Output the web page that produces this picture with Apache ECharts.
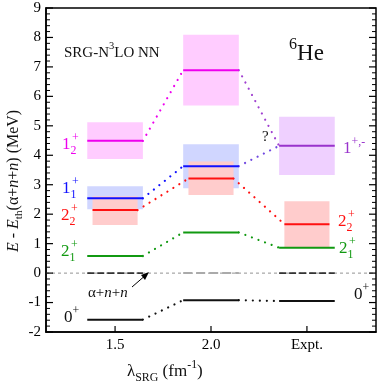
<!DOCTYPE html>
<html>
<head>
<meta charset="utf-8">
<script src="https://cdn.jsdelivr.net/npm/echarts@6/dist/echarts.min.js"></script>
<style>
  html, body { margin: 0; padding: 0; background: #fff; }
  #chart { width: 381px; height: 389px; }
</style>
</head>
<body>
<div id="chart"></div>
<script>
// columns on the x axis: lambda = 1.5, 2.0 and experiment
const columns = [1, 2, 3];
const tickLabels = ['1.5', '2.0', 'Expt.'];
const yTicks = [-2, -1, 0, 1, 2, 3, 4, 5, 6, 7, 8, 9];

// level energies (MeV) relative to alpha+n+n threshold, per column
const level0 = [-1.58, -0.92, -0.95];
const level21 = [0.58, 1.38, 0.86];
const level22 = [2.14, 3.21, 1.66];
const level11 = [2.54, 3.63];
const level12 = [4.49, 6.89];
const level1pm = [4.32];          // expt. 1+,- only
const threshold = [0, 0, 0];

// uncertainty boxes [low, high]
const box12 = [[3.87, 5.12], [5.69, 8.09]];
const box11 = [[2.17, 2.95], [2.88, 4.37]];
const box22 = [[1.63, 2.61], [2.65, 3.79], [0.87, 2.44]];
const box1pm = [[3.33, 5.31]];

const FAM = '"Liberation Serif", "Times New Roman", serif';
const HW = 0.29;   // half width of a level line (x units)
const HWR = 0.235; // half width of the red lines/boxes
const XMIN = 0.28, XMAX = 3.72;

const C = {
    magenta: '#ee00ee', blue: '#1010ff', red: '#ff1010', green: '#119911',
    black: '#111111', purple: '#9933cc'
};

// 从数组生成方框系列
function boxSeries(boxes, cols, hw, fill) {
    return {
        type: 'custom',
        z: 1,
        silent: true,
        data: boxes.map((b, i) => [cols[i], b[0], b[1]]),
        renderItem: function (params, api) {
            const p1 = api.coord([api.value(0) - hw, api.value(2)]);
            const p2 = api.coord([api.value(0) + hw, api.value(1)]);
            return {
                type: 'rect',
                shape: { x: p1[0], y: p1[1], width: p2[0] - p1[0], height: p2[1] - p1[1] },
                style: { fill: fill }
            };
        }
    };
}

// 能级横线
function levelSeries(vals, cols, hw, color, width, dash) {
    return {
        type: 'custom',
        z: 3,
        silent: true,
        data: vals.map((v, i) => [cols[i], v]),
        renderItem: function (params, api) {
            const a = api.coord([api.value(0) - hw, api.value(1)]);
            const b = api.coord([api.value(0) + hw, api.value(1)]);
            return {
                type: 'line',
                shape: { x1: a[0], y1: a[1], x2: b[0], y2: b[1] },
                style: { stroke: color, lineWidth: width || 2, lineDash: dash || null }
            };
        }
    };
}

// 点线连接（圆点）
function dots(x1, y1, x2, y2, color) {
    return {
        type: 'custom',
        z: 2,
        silent: true,
        data: [[x1, y1, x2, y2]],
        renderItem: function (params, api) {
            const a = api.coord([api.value(0), api.value(1)]);
            const b = api.coord([api.value(2), api.value(3)]);
            return {
                type: 'line',
                shape: { x1: a[0], y1: a[1], x2: b[0], y2: b[1] },
                style: { stroke: color, lineWidth: 2.2, lineDash: [0.01, 7], lineCap: 'round' }
            };
        }
    };
}

// 刻度线（左右两侧朝内）
const minorY = [];
yTicks.slice(0, -1).forEach(v => { for (let k = 1; k < 5; k++) minorY.push(v + k * 0.2); });
function yTickSeries(vals, len, width) {
    return {
        type: 'custom', z: 50, silent: true,
        data: vals.map(v => [1, v]),
        renderItem: function (params, api) {
            const l = api.coord([XMIN, api.value(1)]);
            const r = api.coord([XMAX, api.value(1)]);
            return {
                type: 'group',
                children: [
                    { type: 'line', shape: { x1: l[0], y1: l[1], x2: l[0] + len, y2: l[1] }, style: { stroke: '#000', lineWidth: width } },
                    { type: 'line', shape: { x1: r[0], y1: r[1], x2: r[0] - len, y2: r[1] }, style: { stroke: '#000', lineWidth: width } }
                ]
            };
        }
    };
}
const xTickSeries = {
    type: 'custom', z: 50, silent: true,
    data: columns.map(c => [c, -2]),
    renderItem: function (params, api) {
        const b = api.coord([api.value(0), api.value(1)]);
        return {
            type: 'line', shape: { x1: b[0], y1: b[1], x2: b[0], y2: b[1] - 6 },
            style: { stroke: '#000', lineWidth: 1.2 }
        };
    }
};

const series = [
    boxSeries(box12, [1, 2], HW, '#ffccff'),
    boxSeries(box11, [1, 2], HW, '#d0d6ff'),
    boxSeries(box22, [1, 2, 3], HWR, '#ffcccc'),
    boxSeries(box1pm, [3], HW, '#efd0ff'),
    {
        type: 'line', z: 2, silent: true, symbol: 'none',
        data: [[XMIN, 0], [XMAX, 0]],
        lineStyle: { color: '#777', width: 0.8, type: [3, 3] }
    },
    levelSeries([threshold[0]], [1], HW, '#333', 1.6, [7, 3]),
    levelSeries([threshold[1]], [2], HW, '#aaaaaa', 2, [9, 4]),
    levelSeries([threshold[2]], [3], HW, '#333', 1.6, [7, 3]),
    levelSeries(level12, [1, 2], HW, C.magenta),
    levelSeries(level11, [1, 2], HW, C.blue),
    levelSeries(level22, columns, HWR, C.red),
    levelSeries(level21, columns, HW, C.green),
    levelSeries(level0, columns, HW, C.black),
    levelSeries(level1pm, [3], HW, C.purple),
    // 1.5 -> 2.0
    dots(1 + HW, level12[0], 2 - HW, level12[1], C.magenta),
    dots(1 + HW, level11[0], 2 - HW, level11[1], C.blue),
    dots(1 + HWR, level22[0], 2 - HWR, level22[1], C.red),
    dots(1 + HW, level21[0], 2 - HW, level21[1], C.green),
    dots(1 + HW, level0[0], 2 - HW, level0[1], C.black),
    // 2.0 -> Expt.
    dots(2 + HW, level12[1], 3 - HW, level1pm[0], '#a040d0'),
    dots(2 + HW, level11[1], 3 - HW, level1pm[0], '#7048e0'),
    dots(2 + HWR, level22[1], 3 - HWR, level22[2], C.red),
    dots(2 + HW, level21[1], 3 - HW, level21[2], C.green),
    dots(2 + HW, level0[1], 3 - HW, level0[2], C.black),
    yTickSeries(yTicks, 7, 1.2),
    yTickSeries(minorY, 4, 1),
    xTickSeries
];

// 带上下标的文字
const mctx = document.createElement('canvas').getContext('2d');
function rich(parts, x, y, color, size, rot) {
    const children = [];
    let cx = 0;
    let subX = null;
    parts.forEach(p => {
        const t = p[0], k = p[1] || 'n', it = p[2];
        let fs = size, dy = 0;
        if (k === 'b') { fs = size * 0.7; dy = size * 0.32; }
        if (k === 'p') { fs = size * 0.7; dy = -size * 0.42; }
        const font = (it ? 'italic ' : '') + fs.toFixed(1) + 'px ' + FAM;
        let px = cx;
        if (k === 'p' && subX !== null) px = subX + 1.5;
        children.push({
            type: 'text', x: px, y: dy,
            style: { text: t, fill: color, font: font, verticalAlign: 'middle', align: 'left' }
        });
        mctx.font = font;
        const adv = mctx.measureText(t).width;
        if (k === 'b') { subX = cx; cx += adv; }
        else if (k === 'p' && subX !== null) { cx = Math.max(cx, px + adv); subX = null; }
        else { cx += adv; subX = null; }
    });
    return { type: 'group', x: x, y: y, rotation: rot || 0, children: children };
}

const graphics = [
    rich([['1'], ['2', 'b'], ['+', 'p']], 62, 145, C.magenta, 17),
    rich([['1'], ['1', 'b'], ['+', 'p']], 62, 189, C.blue, 17),
    rich([['2'], ['2', 'b'], ['+', 'p']], 61, 216, C.red, 17),
    rich([['2'], ['1', 'b'], ['+', 'p']], 61, 252, C.green, 17),
    rich([['0'], ['+', 'p']], 64, 318, C.black, 17),
    rich([['α+'], ['n', 'n', true], ['+'], ['n', 'n', true]], 88, 293, C.black, 15),
    rich([['1'], ['+,-', 'p']], 343, 149, C.purple, 17),
    rich([['2'], ['2', 'b'], ['+', 'p']], 338, 222, C.red, 17),
    rich([['2'], ['1', 'b'], ['+', 'p']], 339, 249, C.green, 17),
    rich([['0'], ['+', 'p']], 354, 295, C.black, 17),
    rich([['?']], 262, 137, C.black, 15),
    rich([['SRG-N'], ['3', 'p'], ['LO NN']], 64, 53, C.black, 15),
    rich([['6', 'p'], ['He']], 289, 54, C.black, 23),
    rich([['λ'], ['SRG', 'b'], [' (fm'], ['-1', 'p'], [')']], 127, 372, C.black, 17),
    rich([['E', 'n', true], [' - '], ['E', 'n', true], ['th', 'b'], ['(α+'], ['n', 'n', true], ['+'],
          ['n', 'n', true], [') (MeV)']], 14, 252, C.black, 16, Math.PI / 2),
    // arrow to the threshold
    {
        type: 'line', shape: { x1: 132, y1: 287, x2: 147, y2: 274 },
        style: { stroke: '#000', lineWidth: 1 }
    },
    {
        type: 'polygon', shape: { points: [[149, 272], [141, 275], [145, 280]] },
        style: { fill: '#000' }
    }
];

const axisLineStyle = { color: '#000', width: 1.5 };
const option = {
    animation: false,
    backgroundColor: '#fff',
    grid: { left: 46, right: 5, top: 8, bottom: 57, show: true, borderColor: '#000', borderWidth: 1.5, backgroundColor: 'transparent' },
    xAxis: {
        type: 'value', min: XMIN, max: XMAX,
        axisLine: { show: true, onZero: false, lineStyle: axisLineStyle },
        axisTick: { show: false },
        axisLabel: {
            customValues: columns, margin: 6, color: '#000', fontSize: 15, fontFamily: FAM,
            formatter: v => tickLabels[columns.indexOf(v)]
        },
        splitLine: { show: false }
    },
    yAxis: {
        type: 'value', min: -2, max: 9, interval: 1,
        axisLine: { show: true, onZero: false, lineStyle: axisLineStyle },
        axisTick: { show: false },
        axisLabel: { margin: 5, color: '#000', fontSize: 15, fontFamily: FAM },
        splitLine: { show: false }
    },
    series: series,
    graphic: graphics
};

const chart = echarts.init(document.getElementById('chart'));
chart.setOption(option);
</script>
</body>
</html>
